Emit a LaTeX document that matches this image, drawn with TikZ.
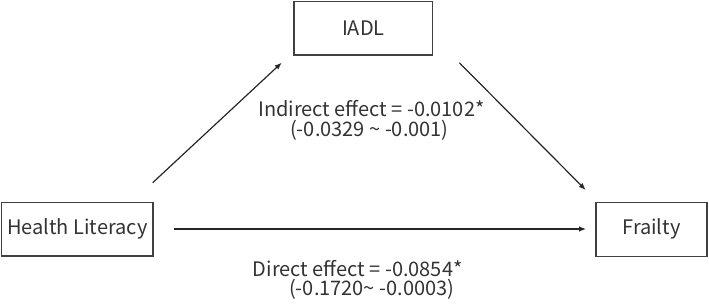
\documentclass[tikz,border=0pt]{standalone}
\usepackage{fontspec}
\setmainfont{Noto Sans CJK JP}
\usetikzlibrary{arrows.meta}
\definecolor{txt}{HTML}{333333}
\definecolor{boxline}{HTML}{404040}
\begin{document}
\begin{tikzpicture}[x=1pt,y=-1pt,
  varbox/.style={draw=boxline,line width=1.3pt,text=txt,inner sep=0pt,
    font=\fontsize{20}{24}\selectfont},
  effect/.style={text=txt,inner sep=0pt,anchor=base west,align=left,
    font=\fontsize{20}{19.8}\selectfont},
  conn/.style={line width=1.2pt,draw=black!85,-{Latex[length=7pt,width=5.5pt]}}]
\useasboundingbox (0,0) rectangle (709,305);
\node[varbox,minimum width=151.3pt,minimum height=53.3pt] (hl) at (77.3,229.3) {Health Literacy};
\node[varbox,minimum width=111pt,minimum height=54pt] (fr) at (651.5,229.3) {Frailty};
\node[varbox,minimum width=138.7pt,minimum height=53.7pt] (iadl) at (363.4,28.2) {IADL};
\coordinate (a1s) at (152.7,182.7);
\coordinate (a1e) at (281.7,62.7);
\coordinate (a2s) at (459.3,62.7);
\coordinate (a2e) at (585.7,190);
\coordinate (a3s) at (174,229);
\coordinate (a3e) at (586,229);
\draw[conn] (a1s) -- (a1e);
\draw[conn] (a2s) -- (a2e);
\draw[conn] (a3s) -- (a3e);
\node[effect] (ind) at (258,136)
  {Indirect effect = -0.0102*\\\hspace*{32pt}(-0.0329 \textasciitilde{} -0.001)};
\node[effect] (dir) at (252.7,295.8)
  {Direct effect = -0.0854*\\\hspace*{36.3pt}(-0.1720\textasciitilde{} -0.0003)};
\end{tikzpicture}
\end{document}
